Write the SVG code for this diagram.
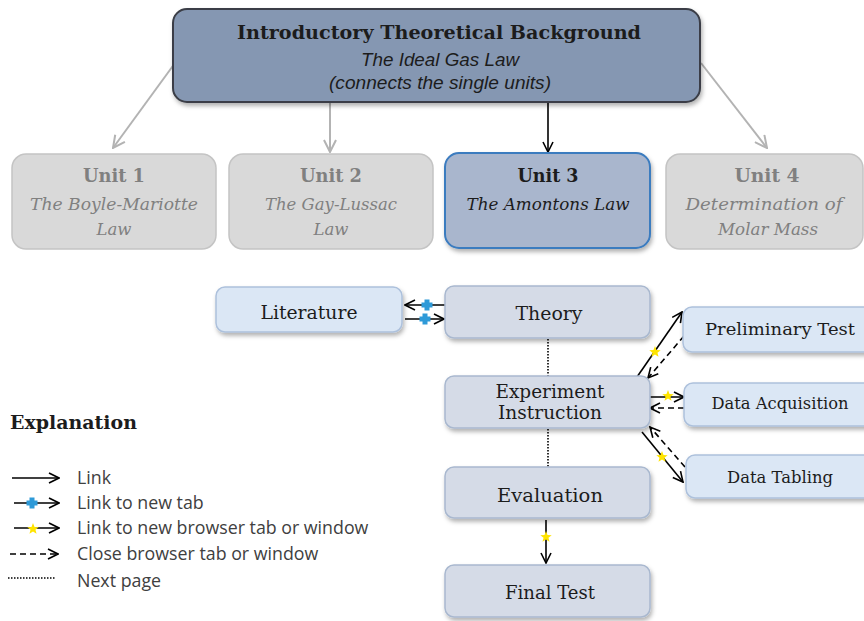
<svg xmlns="http://www.w3.org/2000/svg" width="864" height="621" viewBox="0 0 864 621">
<style>
.serif{font-family:"DejaVu Serif","Liberation Serif",serif}
.sans{font-family:"Liberation Sans","Open Sans",sans-serif}
.lsans{font-family:"Open Sans","Liberation Sans",sans-serif}
.t{fill:#1c1c1c;text-anchor:middle}
.g{fill:#808080;text-anchor:middle}
.top{fill:#8597b2;stroke:#3a3e46;stroke-width:2}
.u3{fill:#a9b6cd;stroke:#3b7bbf;stroke-width:2}
.ug{fill:#d9d9d9;stroke:#c4c4c4;stroke-width:1.5}
.node{fill:#d5dbe7;stroke:#a9b8cf;stroke-width:1.5}
.lit{fill:#dbe7f5;stroke:#adc1dc;stroke-width:1.5}
.ln{stroke:#000;stroke-width:1.6;fill:none}
.gl{stroke:#b3b3b3;stroke-width:2;fill:none}
.dash{stroke-dasharray:6 4}
.dot{stroke:#000;stroke-width:1.6;stroke-dasharray:1.5 1.5;fill:none}
.leg{fill:#404040;font-size:17.8px}
</style>
<defs>
<filter id="sh" x="-10%" y="-10%" width="125%" height="140%">
<feDropShadow dx="1.5" dy="3" stdDeviation="2" flood-color="#000" flood-opacity="0.3"/>
</filter>
<marker id="ah" viewBox="0 0 12 12" refX="11" refY="6" markerWidth="12" markerHeight="12" markerUnits="userSpaceOnUse" orient="auto">
<path d="M1,1 L11,6 L1,11" fill="none" stroke="#000" stroke-width="1.6"/>
</marker>
<marker id="ahg" viewBox="0 0 14 14" refX="13" refY="7" markerWidth="14" markerHeight="14" markerUnits="userSpaceOnUse" orient="auto">
<path d="M1,1 L13,7 L1,13" fill="none" stroke="#b3b3b3" stroke-width="2"/>
</marker>
<polygon id="star" points="0,-6 1.53,-2.1 5.71,-1.85 2.47,0.8 3.53,4.85 0,2.6 -3.53,4.85 -2.47,0.8 -5.71,-1.85 -1.53,-2.1" fill="#ffe400"/>
<path id="plus" d="M-2.5,-5.5h5v3h3v5h-3v3h-5v-3h-3v-5h3z" fill="#2e9ad8"/>
</defs>

<g id="connectors">
<line class="gl" x1="175" y1="63" x2="113" y2="148" marker-end="url(#ahg)"/>
<line class="gl" x1="330" y1="102" x2="330" y2="152" marker-end="url(#ahg)"/>
<line class="ln" x1="548" y1="102" x2="548" y2="152" marker-end="url(#ah)"/>
<line class="gl" x1="701" y1="63" x2="767" y2="148" marker-end="url(#ahg)"/>

<line class="ln" x1="445" y1="305" x2="405" y2="305" marker-end="url(#ah)"/>
<use href="#plus" x="427" y="305"/>
<line class="ln" x1="405" y1="319" x2="444" y2="319" marker-end="url(#ah)"/>
<use href="#plus" x="425" y="319"/>

<line class="dot" x1="548" y1="339" x2="548" y2="376"/>
<line class="dot" x1="548" y1="429" x2="548" y2="467"/>

<line class="ln" x1="637" y1="377" x2="682" y2="312" marker-end="url(#ah)"/>
<use href="#star" x="655" y="352"/>
<line class="ln dash" x1="684" y1="336" x2="648" y2="378" marker-end="url(#ah)"/>

<line class="ln" x1="650" y1="397" x2="684" y2="397" marker-end="url(#ah)"/>
<use href="#star" x="668" y="396"/>
<line class="ln dash" x1="684" y1="408" x2="650" y2="408" marker-end="url(#ah)"/>

<line class="ln" x1="642" y1="432" x2="683" y2="482" marker-end="url(#ah)"/>
<use href="#star" x="662" y="457"/>
<line class="ln dash" x1="685" y1="467" x2="650" y2="427" marker-end="url(#ah)"/>

<line class="ln" x1="546" y1="520" x2="546" y2="563" marker-end="url(#ah)"/>
<use href="#star" x="546" y="537"/>
</g>

<g id="intro">
<rect class="top" x="173" y="9" width="527" height="93" rx="14" filter="url(#sh)"/>
<text class="serif t" x="439" y="39" font-size="19" font-weight="bold" textLength="404" lengthAdjust="spacingAndGlyphs">Introductory Theoretical Background</text>
<text class="sans t" x="440" y="66" font-size="18" font-style="italic" textLength="158" lengthAdjust="spacingAndGlyphs">The Ideal Gas Law</text>
<text class="sans t" x="440" y="89" font-size="18" font-style="italic" textLength="222" lengthAdjust="spacingAndGlyphs">(connects the single units)</text>
</g>

<g id="unit1">
<rect class="ug" x="12" y="154" width="204" height="95" rx="14"/>
<text class="serif g" x="114" y="182" font-size="18" font-weight="bold" textLength="62" lengthAdjust="spacingAndGlyphs">Unit 1</text>
<text class="serif g" x="114" y="210" font-size="17" font-style="italic" textLength="168" lengthAdjust="spacingAndGlyphs">The Boyle-Mariotte</text>
<text class="serif g" x="114" y="235" font-size="17" font-style="italic" textLength="35" lengthAdjust="spacingAndGlyphs">Law</text>
</g>
<g id="unit2">
<rect class="ug" x="229" y="154" width="204" height="95" rx="14"/>
<text class="serif g" x="331" y="182" font-size="18" font-weight="bold" textLength="62" lengthAdjust="spacingAndGlyphs">Unit 2</text>
<text class="serif g" x="331" y="210" font-size="17" font-style="italic" textLength="132" lengthAdjust="spacingAndGlyphs">The Gay-Lussac</text>
<text class="serif g" x="331" y="235" font-size="17" font-style="italic" textLength="35" lengthAdjust="spacingAndGlyphs">Law</text>
</g>
<g id="unit3">
<rect class="u3" x="445" y="153" width="205" height="95" rx="14" filter="url(#sh)"/>
<text class="serif t" x="548" y="182" font-size="18" font-weight="bold" textLength="61" lengthAdjust="spacingAndGlyphs">Unit 3</text>
<text class="serif t" x="548" y="210" font-size="17" font-style="italic" textLength="163" lengthAdjust="spacingAndGlyphs">The Amontons Law</text>
</g>
<g id="unit4">
<rect class="ug" x="666" y="154" width="197" height="95" rx="14"/>
<text class="serif g" x="767" y="182" font-size="18" font-weight="bold" textLength="65" lengthAdjust="spacingAndGlyphs">Unit 4</text>
<text class="serif g" x="764" y="210" font-size="17" font-style="italic" textLength="157" lengthAdjust="spacingAndGlyphs">Determination of</text>
<text class="serif g" x="768" y="235" font-size="17" font-style="italic" textLength="100" lengthAdjust="spacingAndGlyphs">Molar Mass</text>
</g>

<g id="literature">
<rect class="lit" x="216" y="287" width="186" height="45" rx="9" filter="url(#sh)"/>
<text class="serif t" x="309" y="319" font-size="19" textLength="97" lengthAdjust="spacingAndGlyphs">Literature</text>
</g>
<g id="theory">
<rect class="node" x="445" y="286" width="205" height="52" rx="9" filter="url(#sh)"/>
<text class="serif t" x="549" y="320" font-size="19" textLength="67" lengthAdjust="spacingAndGlyphs">Theory</text>
</g>
<g id="experiment">
<rect class="node" x="445" y="376" width="205" height="52" rx="9" filter="url(#sh)"/>
<text class="serif t" x="550" y="398" font-size="18" textLength="109" lengthAdjust="spacingAndGlyphs">Experiment</text>
<text class="serif t" x="550" y="419" font-size="18" textLength="104" lengthAdjust="spacingAndGlyphs">Instruction</text>
</g>
<g id="evaluation">
<rect class="node" x="445" y="467" width="205" height="51" rx="9" filter="url(#sh)"/>
<text class="serif t" x="550" y="502" font-size="19" textLength="106" lengthAdjust="spacingAndGlyphs">Evaluation</text>
</g>
<g id="finaltest">
<rect class="node" x="445" y="565" width="205" height="52" rx="9" filter="url(#sh)"/>
<text class="serif t" x="550" y="599" font-size="19" textLength="90" lengthAdjust="spacingAndGlyphs">Final Test</text>
</g>
<g id="preliminary">
<rect class="lit" x="683" y="307" width="195" height="45" rx="9" filter="url(#sh)"/>
<text class="serif t" x="780" y="335" font-size="17" textLength="150" lengthAdjust="spacingAndGlyphs">Preliminary Test</text>
</g>
<g id="acquisition">
<rect class="lit" x="684" y="383" width="194" height="43" rx="9" filter="url(#sh)"/>
<text class="serif t" x="780" y="409" font-size="17" textLength="137" lengthAdjust="spacingAndGlyphs">Data Acquisition</text>
</g>
<g id="tabling">
<rect class="lit" x="686" y="455" width="192" height="43" rx="9" filter="url(#sh)"/>
<text class="serif t" x="780" y="483" font-size="17" textLength="106" lengthAdjust="spacingAndGlyphs">Data Tabling</text>
</g>

<g id="legend">
<text class="serif" x="10" y="429" font-size="18" font-weight="bold" fill="#1c1c1c" textLength="127" lengthAdjust="spacingAndGlyphs">Explanation</text>
<line class="ln" x1="12" y1="478" x2="59" y2="478" marker-end="url(#ah)"/>
<text class="lsans leg" x="77" y="484">Link</text>
<line class="ln" x1="14" y1="503" x2="59" y2="503" marker-end="url(#ah)"/>
<use href="#plus" x="32" y="503"/>
<text class="lsans leg" x="77" y="509">Link to new tab</text>
<line class="ln" x1="14" y1="528" x2="59" y2="528" marker-end="url(#ah)"/>
<use href="#star" x="33" y="529"/>
<text class="lsans leg" x="77" y="534">Link to new browser tab or window</text>
<line class="ln dash" x1="10" y1="554" x2="58" y2="554" marker-end="url(#ah)"/>
<text class="lsans leg" x="77" y="560">Close browser tab or window</text>
<line class="dot" x1="8" y1="578" x2="56" y2="578" stroke-width="1.2"/>
<text class="lsans leg" x="77" y="587">Next page</text>
</g>
</svg>
